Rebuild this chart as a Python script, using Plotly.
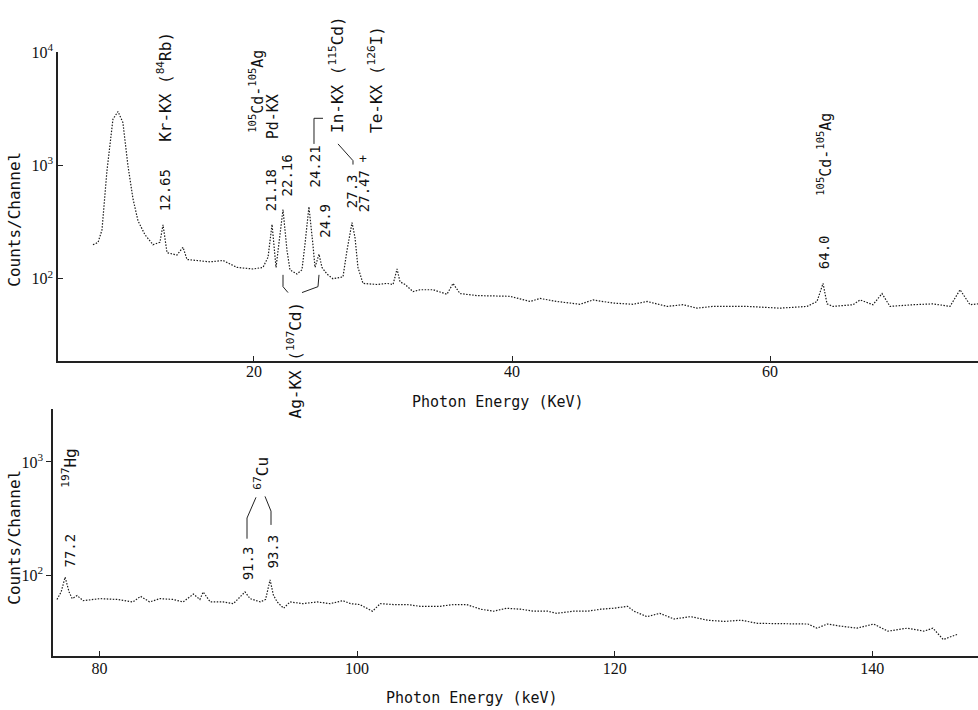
import plotly.graph_objects as go

W, H = 978, 710

# ---------------- data ----------------
top_energy = [7.52, 7.91, 8.22, 8.60, 9.07, 9.46, 9.84, 10.23, 10.62, 11.01, 11.55, 12.17,
              12.71, 12.95, 13.26, 14.03, 14.50, 14.81, 15.58, 16.59, 17.60, 18.68, 19.92,
              20.70, 21.09, 21.40, 21.71, 22.02, 22.25, 22.56, 22.79, 23.33, 23.72, 23.95,
              24.26, 24.57, 24.73, 25.04, 25.27, 25.66, 26.12, 26.90, 27.21, 27.60, 27.83,
              28.06, 28.45, 29.53, 30.31, 30.78, 31.09, 31.32, 31.71, 32.33, 32.87, 33.88,
              34.96, 35.43, 35.97, 37.29, 38.53, 39.84, 41.40, 42.17, 43.49, 45.27, 46.28,
              47.83, 49.38, 50.47, 52.02, 53.26, 54.34, 55.58, 58.22, 60.78, 62.87, 63.64,
              64.11, 64.42, 64.88, 66.43, 66.98, 67.98, 68.68, 69.30, 71.09, 72.64, 73.95,
              74.73, 75.50, 76.12]
top_counts = [200, 209, 270, 890, 2570, 3000, 2400, 1000, 510, 325, 245, 200,
              210, 300, 170, 162, 190, 148, 145, 141, 145, 126, 122,
              126, 155, 302, 126, 245, 408, 178, 120, 110, 120, 200,
              432, 200, 126, 165, 126, 110, 100, 104, 178, 313, 232,
              126, 91, 89, 91, 89, 122, 94, 89, 77, 80, 80,
              73, 91, 74, 71, 70, 70, 63, 67, 63, 59.5, 65,
              61, 59.5, 63, 57, 59, 55, 57, 57, 55, 57, 63,
              91, 60, 57, 59, 65, 59, 74, 57, 59, 60, 57,
              80, 59, 60]

bot_energy = [76.71, 77.03, 77.34, 77.65, 77.89, 78.27, 78.74, 80.05, 81.37, 82.6, 83.2,
              83.9, 84.7, 85.7, 86.5, 87.3, 87.8, 88.06, 88.6, 89.6, 90.4, 91.3, 91.7,
              92.5, 92.9, 93.25, 93.5, 93.8, 94.3, 94.8, 95.8, 96.9, 97.9, 98.9, 99.5,
              100.2, 101.2, 101.8, 102.8, 103.9, 104.9, 106.4, 107.5, 108.5, 109.6, 110.6,
              111.6, 112.7, 113.7, 114.8, 115.5, 116.8, 117.9, 118.9, 119.9, 121.0, 121.5,
              122.5, 123.5, 124.6, 125.9, 127.2, 128.5, 129.8, 131.1, 132.3, 133.6, 135.0,
              135.7, 136.5, 137.5, 138.8, 140.1, 141.2, 142.7, 144.0, 144.7, 145.5, 146.6]
bot_counts = [61, 71, 96, 71, 62, 66, 59.5, 62, 61, 58, 65,
              58, 62, 61, 58, 68, 61, 71, 58, 58, 56, 71, 62,
              58, 61, 91, 67, 58, 51, 58, 56, 58, 56, 59.5, 56,
              55, 48, 56, 55, 55, 53, 53, 55, 55, 50, 48,
              51, 50, 48, 48, 46, 48, 48, 50, 51, 53, 48,
              43, 46, 41, 43, 40, 39, 40, 37.5, 37.5, 37, 37,
              34, 37, 35.5, 34, 37, 32, 34, 32, 34, 27, 30]

top_xticks = [20, 40, 60]
bot_xticks = [80, 100, 120, 140]
top_yticks = [100, 1000, 10000]
top_yticktext = ["10<sup>2</sup>", "10<sup>3</sup>", "10<sup>4</sup>"]
bot_yticks = [100, 1000]
bot_yticktext = ["10<sup>2</sup>", "10<sup>3</sup>"]

# ---------------- helpers ----------------
def px(x, y):
    return x / W, 1 - y / H

MONO = "DejaVu Sans Mono"
SERIF = "Liberation Serif"

fig = go.Figure()
line_style = dict(color="#1a1a1a", width=1.2, dash="1.5px,1.5px")
fig.add_trace(go.Scatter(x=top_energy, y=top_counts, mode="lines", line=line_style,
                         xaxis="x", yaxis="y", showlegend=False))
fig.add_trace(go.Scatter(x=bot_energy, y=bot_counts, mode="lines", line=line_style,
                         xaxis="x2", yaxis="y2", showlegend=False))

axis_common = dict(showline=True, linecolor="#222", linewidth=1.5, showgrid=False,
                   zeroline=False, ticklen=5, tickcolor="#222", mirror=False,
                   tickfont=dict(family=SERIF, size=16, color="#111"))

fig.update_layout(
    width=W, height=H, margin=dict(l=0, r=0, t=0, b=0),
    paper_bgcolor="white", plot_bgcolor="white",
    xaxis=dict(domain=[58 / W, 1.0], range=[4.81, 76.12], tickvals=top_xticks,
               ticks="inside", anchor="y", ticklabelstandoff=-4, **axis_common),
    yaxis=dict(domain=[1 - 355 / H, 1 - 42 / H], type="log", range=[1.278, 4.0],
               tickvals=top_yticks, ticktext=top_yticktext, ticks="inside",
               anchor="x", **axis_common),
    xaxis2=dict(domain=[53 / W, 1.0], range=[76.4, 148.2], tickvals=bot_xticks,
                ticks="inside", anchor="y2", ticklabelstandoff=-3, **axis_common),
    yaxis2=dict(domain=[1 - 655 / H, 1 - 404 / H], type="log", range=[1.287, 3.47],
                tickvals=bot_yticks, ticktext=bot_yticktext, ticks="outside",
                anchor="x2", **axis_common),
)

# ---------------- text labels ----------------
def label(text, x, y, size=14, angle=-90, family=MONO):
    xp, yp = px(x, y)
    fig.add_annotation(text=text, x=xp, y=yp, xref="paper", yref="paper",
                       showarrow=False, textangle=angle, xanchor="center", yanchor="middle",
                       font=dict(family=family, size=size, color="#111"))

# top panel
label("12.65", 165, 182)
label("Kr-KX (<sup>84</sup>Rb)", 165, 77, size=16)
label("<sup>105</sup>Cd-<sup>105</sup>Ag", 256, 82, size=15)
label("Pd-KX", 273, 108, size=15)
label("21.18", 271, 182)
label("22.16", 287, 167)
label("24.21", 315, 158)
label("In-KX (<sup>115</sup>Cd)", 337, 65, size=16)
label("24.9", 325, 213)
label("27.3", 352, 183)
label("27.47", 364, 183)
label("+", 363, 150, angle=0, size=13)
label("Te-KX (<sup>126</sup>I)", 376, 70, size=16)
label("Ag-KX (<sup>107</sup>Cd)", 295, 355, size=16)
label("64.0", 824, 245)
label("<sup>105</sup>Cd-<sup>105</sup>Ag", 824, 146, size=15)
# bottom panel
label("<sup>197</sup>Hg", 70, 465, size=16)
label("77.2", 70, 548)
label("91.3", 248, 561)
label("93.3", 273, 549)
label("<sup>67</sup>Cu", 262, 470, size=16)
# axis titles
label("Photon Energy (KeV)", 498, 397, angle=0, size=15)
label("Photon Energy (keV)", 472, 698, angle=0, size=15)
label("Counts/Channel", 15, 212, size=16)
label("Counts/Channel", 15, 535, size=16)

# ---------------- bracket lines ----------------
def path(points):
    d = ""
    for i, (x, y) in enumerate(points):
        xp, yp = px(x, y)
        d += ("M" if i == 0 else " L") + f" {xp:.5f} {yp:.5f}"
    fig.add_shape(type="path", path=d, xref="paper", yref="paper",
                  line=dict(color="#222", width=1))

path([(314, 135), (314, 109), (323, 109)])
path([(353, 156), (353, 152), (338, 135)])
path([(283, 268), (283, 280), (288, 286)])
path([(302, 286), (318, 280), (319, 268)])
path([(247, 536), (247, 515), (256, 494)])
path([(265, 493), (271, 508), (271, 522)])

fig.write_html("out.html")
